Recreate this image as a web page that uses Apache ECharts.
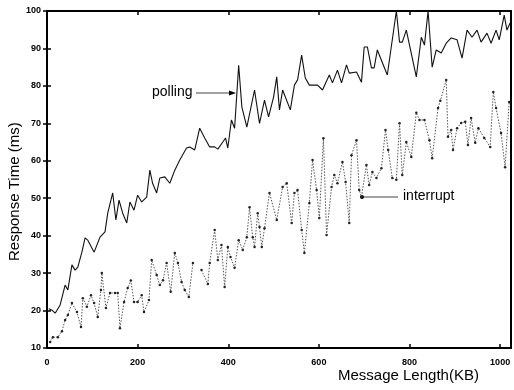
<!DOCTYPE html>
<html><head><meta charset="utf-8">
<script src="https://cdn.jsdelivr.net/npm/echarts@6/dist/echarts.min.js"></script>
<style>html,body{margin:0;padding:0;background:#fff}#c{width:514px;height:390px}</style>
</head><body><div id="c"></div>
<script>
const xTicks = [0, 200, 400, 600, 800, 1000];
const yTicks = [10, 20, 30, 40, 50, 60, 70, 80, 90, 100];
const pollingKB = [4,11,18,29,40,46,55,62,68,77,84,90,104,117,128,134,145,152,159,167,176,183,192,200,209,220,227,233,242,249,260,271,282,293,308,315,326,337,348,359,370,377,388,394,399,407,414,419,423,430,441,458,469,480,489,500,507,513,520,537,546,553,562,570,579,597,608,623,630,641,650,661,667,683,694,700,707,716,722,729,751,771,778,784,793,800,815,826,833,841,850,859,870,881,892,905,916,927,938,949,958,971,980,991,998,1009,1015,1022];
const pollingMs = [20.5,20.1,19.3,21.5,26.8,25.5,32.2,30.8,31.6,35.6,39.4,38.8,35.6,39.6,41,46,51.4,44.2,49.5,46,43.4,49,46.8,50.8,49,50.3,57.5,54,51.4,55.4,55.7,54,57.5,60.2,63.4,63.7,62.9,68.7,66.1,63.7,63.7,63.1,65,66.1,63.4,70.9,68.7,78,85.5,74.4,69,78.9,70,76.2,71.7,77,82.4,73.6,78.9,73.6,80.2,81.6,88.2,82.1,80.2,80.2,78.9,82.9,80.8,84.2,80.8,85.6,83.4,83.7,81,90.4,90.4,84.8,84.8,89.6,82.9,100,91.7,91.7,94.9,90.9,82.4,93,90.9,100,85,89.6,88.8,91.4,92.8,92.3,87.4,94.9,93,94.9,91.7,94.1,91.4,94.9,92.3,98.9,94.9,96.8];
const interruptKB = [7,13,24,33,40,46,55,66,75,79,88,97,104,112,119,121,130,139,150,156,161,170,178,185,192,200,209,214,225,231,242,249,256,264,273,282,289,297,304,313,322,331,341,355,359,370,377,385,392,399,405,414,423,432,441,447,454,458,465,469,474,480,491,507,520,529,540,546,553,562,568,579,586,595,601,610,617,628,634,641,652,659,667,672,683,689,694,705,711,718,727,738,747,753,762,771,778,784,793,804,815,822,833,844,850,863,868,881,885,892,896,905,914,923,929,936,945,952,965,978,985,991,1002,1011,1020];
const interruptMs = [11.6,12.9,12.9,14.5,17.5,18.8,22,19.6,15.6,23.3,21,24.1,22,18.3,25.5,30,20.7,24.7,24.7,24.7,15.3,22.3,26,28,22.3,22.3,24.1,19.6,22.8,33.5,29.5,26.8,28.1,32.7,25,35.4,32.7,27.6,25.5,23.6,32.7,null,30.8,27.1,32.7,41.5,33.5,37.5,26.3,37,34.3,31.4,38.8,36.2,39.6,47.6,39.6,37,46,42.3,37,42,51.4,44.2,53,54,43.4,51.4,52.2,41.5,35.4,48.7,60.2,52.2,44.7,66,40.2,53,56.2,54,59.7,54.3,43.4,61.5,65.5,52.2,50.4,58.9,53.5,57,55.4,58,68.2,62.9,55.4,54.9,70,56.2,65,61,72.8,70.9,70.9,65.5,60.7,74.1,76,81.6,66.4,68.2,62.9,68.7,70.1,70.4,64.2,71.4,64.8,68.7,66.1,63.7,78.4,74.1,67.4,58.3,75.7];

const chart = echarts.init(document.getElementById('c'), null, {renderer: 'canvas'});
const pair = (xs, ys) => xs.map((x, i) => [x, ys[i] === null ? '-' : ys[i]]);
const lblStyle = {color: '#000', fontSize: 9, fontWeight: 'bold', fontFamily: 'Liberation Sans Narrow, Liberation Sans, Arial'};
chart.setOption({
  animation: false,
  backgroundColor: '#fff',
  grid: {left: 47, right: 2, top: 11, bottom: 42, show: true, borderColor: '#000', borderWidth: 2},
  xAxis: [
    {type: 'value', min: 0, max: 1024, interval: 200, position: 'bottom',
     axisLine: {show: false}, splitLine: {show: false},
     axisTick: {inside: true, length: 4, lineStyle: {color: '#000', width: 1.5}},
     axisLabel: Object.assign({margin: 10, formatter: v => xTicks.includes(v) ? String(v) : ''}, lblStyle)},
    {type: 'value', min: 0, max: 1024, interval: 200, position: 'top',
     axisLine: {show: false}, splitLine: {show: false},
     axisTick: {inside: true, length: 4, lineStyle: {color: '#000', width: 1.5}},
     axisLabel: {show: false}}
  ],
  yAxis: [
    {type: 'value', min: 10, max: 100, interval: 10, position: 'left',
     axisLine: {show: false}, splitLine: {show: false},
     axisTick: {inside: true, length: 4, lineStyle: {color: '#000', width: 1.5}},
     axisLabel: Object.assign({margin: 6, formatter: v => yTicks.includes(v) ? String(v) : ''}, lblStyle)},
    {type: 'value', min: 10, max: 100, interval: 10, position: 'right',
     axisLine: {show: false}, splitLine: {show: false},
     axisTick: {inside: true, length: 4, lineStyle: {color: '#000', width: 1.5}},
     axisLabel: {show: false}}
  ],
  series: [
    {name: 'polling', type: 'line', data: pair(pollingKB, pollingMs), showSymbol: false,
     lineStyle: {color: '#111', width: 1.1}, clip: true},
    {name: 'interrupt', type: 'line', data: pair(interruptKB, interruptMs), connectNulls: false,
     symbol: 'circle', symbolSize: 2.5, itemStyle: {color: '#222'},
     lineStyle: {color: '#555', width: 1, type: [1.5, 1.5]}, clip: true}
  ],
  graphic: [
    {type: 'text', left: 152, top: 85, style: {text: 'polling', fill: '#000', font: '14px Liberation Sans, Arial'}},
    {type: 'line', shape: {x1: 196, y1: 93, x2: 232, y2: 93}, style: {stroke: '#444', lineWidth: 1}},
    {type: 'polygon', shape: {points: [[236, 93], [229, 90.5], [229, 95.5]]}, style: {fill: '#000'}},
    {type: 'text', left: 403, top: 189, style: {text: 'interrupt', fill: '#000', font: '14px Liberation Sans, Arial'}},
    {type: 'line', shape: {x1: 364, y1: 197, x2: 398, y2: 197}, style: {stroke: '#444', lineWidth: 1}},
    {type: 'circle', shape: {cx: 362, cy: 197, r: 2}, style: {fill: '#000'}},
    {type: 'text', left: 338, top: 368, style: {text: 'Message Length(KB)', fill: '#000', font: '15px Liberation Sans, Arial'}},
    {type: 'text', x: 7, y: 261, rotation: Math.PI / 2, style: {text: 'Response Time (ms)', fill: '#000', font: '15px Liberation Sans, Arial'}}
  ]
});
</script></body></html>
